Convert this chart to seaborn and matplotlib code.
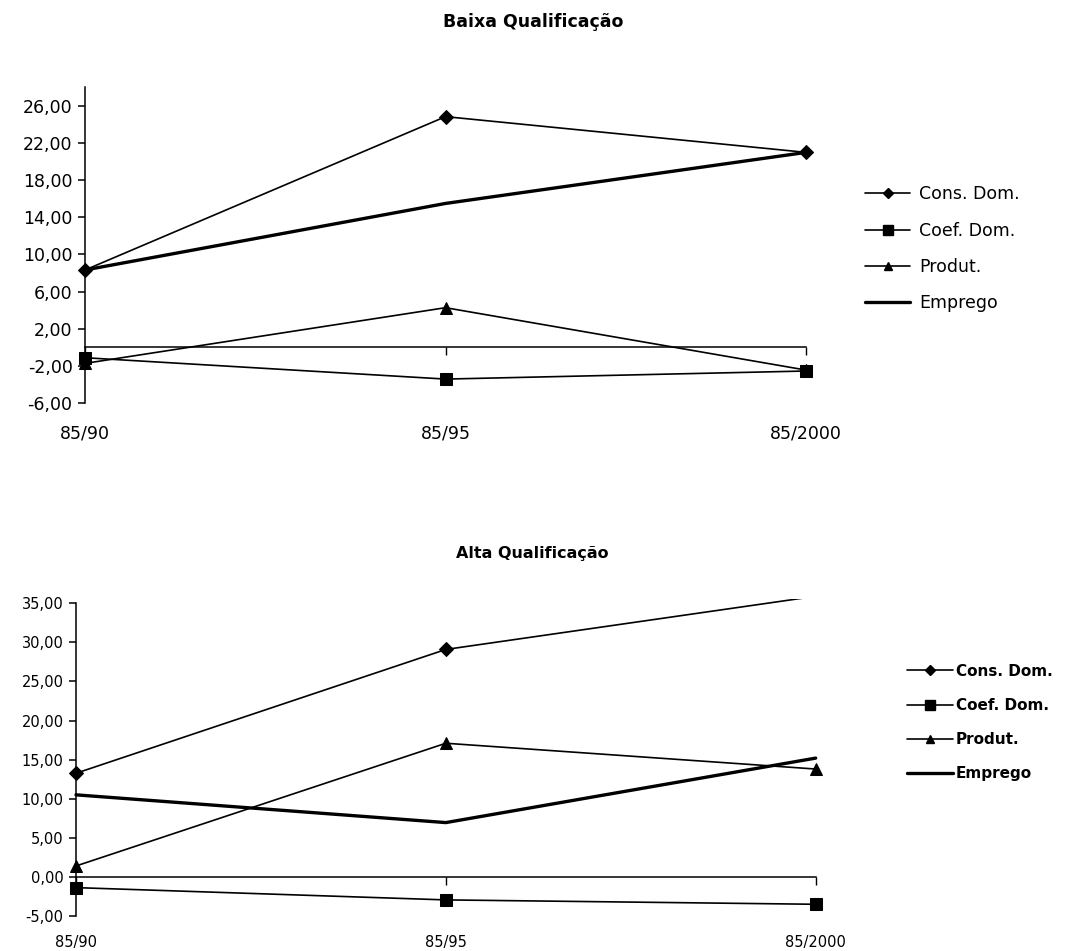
import numpy as np
import pandas as pd
import matplotlib.pyplot as plt
import seaborn as sns
from matplotlib.lines import Line2D
from matplotlib.patches import Rectangle
from matplotlib.ticker import FuncFormatter

# data
periodos = ['85/90', '85/95', '85/2000']
series = ['Cons. Dom.', 'Coef. Dom.', 'Produt.', 'Emprego']

baixa_cons = [8.33, 24.85, 21.0]
baixa_coef = [-1.12, -3.42, -2.55]
baixa_produt = [-1.73, 4.27, -2.45]
baixa_emprego = [8.33, 15.5, 21.0]

alta_cons = [13.26, 29.1, 35.9]
alta_coef = [-1.37, -2.94, -3.5]
alta_produt = [1.4, 17.1, 13.8]
alta_emprego = [10.5, 6.95, 15.2]

baixa_yticks = [-6, -2, 2, 6, 10, 14, 18, 22, 26]
alta_yticks = [-5, 0, 5, 10, 15, 20, 25, 30, 35]

markers = {'Cons. Dom.': 'D', 'Coef. Dom.': 's', 'Produt.': '^', 'Emprego': None}
msizes = {'Cons. Dom.': 7, 'Coef. Dom.': 8.5, 'Produt.': 8, 'Emprego': 0}
widths = {'Cons. Dom.': 1.2, 'Coef. Dom.': 1.2, 'Produt.': 1.2, 'Emprego': 2.4}

def make_df(cons, coef, produt, emprego):
    rows = []
    for s, vals in zip(series, [cons, coef, produt, emprego]):
        for p, v in zip(periodos, vals):
            rows.append({'periodo': p, 'serie': s, 'valor': v})
    return pd.DataFrame(rows)

baixa = make_df(baixa_cons, baixa_coef, baixa_produt, baixa_emprego)
alta = make_df(alta_cons, alta_coef, alta_produt, alta_emprego)

sns.set_style('ticks')
plt.rcParams['font.family'] = ['DejaVu Sans']
plt.rcParams['text.color'] = 'black'
plt.rcParams['xtick.color'] = 'black'
plt.rcParams['ytick.color'] = 'black'
plt.rcParams['axes.labelcolor'] = 'black'

fig = plt.figure(figsize=(10.72, 9.51), dpi=100)
ax1 = fig.add_axes([0.0793, 0.5762, 0.6726, 0.3319])
ax2 = fig.add_axes([0.0709, 0.0368, 0.6900, 0.3329])

def draw(ax, df, ylim, yticks, fs, pad, spine_top):
    for s in series:
        sub = df[df['serie'] == s]
        sns.lineplot(sub, x='periodo', y='valor', ax=ax, color='black',
                     marker=markers[s], markersize=msizes[s], linewidth=widths[s],
                     markeredgecolor='black', legend=False, sort=False)
        ln = ax.lines[-1]
        # points beyond the top of the axis get no marker (cut off like the original)
        ln.set_markevery([i for i, v in enumerate(sub['valor']) if v <= ylim[1]])
        ln.set_clip_path(Rectangle((-0.05, -0.1), 1.1, 1.1, transform=ax.transAxes))
    ax.set_xlim(0, 2)
    ax.set_ylim(*ylim)
    ax.set_yticks(yticks)
    ax.yaxis.set_major_formatter(FuncFormatter(lambda v, p: f'{v:.2f}'.replace('.', ',')))
    ax.spines['top'].set_visible(False)
    ax.spines['right'].set_visible(False)
    ax.spines['bottom'].set_position(('data', 0))
    ax.spines['left'].set_bounds(ylim[0], spine_top)
    for sp in ['left', 'bottom']:
        ax.spines[sp].set_linewidth(1.1)
        ax.spines[sp].set_color('black')
    ax.tick_params(axis='y', direction='out', length=5, width=1.1, labelsize=fs, pad=4)
    ax.tick_params(axis='x', direction='out', length=5.5, width=1.0, labelsize=fs, pad=pad)
    ax.set_xlabel('')
    ax.set_ylabel('')

draw(ax1, baixa, (-6, 28), baixa_yticks, 12.5, 50, 28)
draw(ax2, alta, (-5, 35.5), alta_yticks, 10.5, 36, 35)

fig.text(0.497, 0.977, 'Baixa Qualificação', ha='center', va='center',
         fontsize=12.5, fontweight='bold')
fig.text(0.497, 0.4175, 'Alta Qualificação', ha='center', va='center',
         fontsize=11.5, fontweight='bold')

def handles(ms_scale):
    hs = []
    for s in series:
        hs.append(Line2D([], [], color='black', marker=markers[s],
                         markersize=msizes[s] * ms_scale,
                         linewidth=widths[s] if s == 'Emprego' else 1.2))
    return hs

fig.legend(handles(0.8), series, loc='upper left', bbox_to_anchor=(0.807, 0.805),
           frameon=False, fontsize=12.5, handlelength=2.6, handletextpad=0.5,
           labelspacing=1.05, borderpad=0, borderaxespad=0)
fig.legend(handles(0.8), series, loc='upper left', bbox_to_anchor=(0.846, 0.302),
           frameon=False, prop={'size': 11, 'weight': 'bold'}, handlelength=3.0,
           handletextpad=0.2, labelspacing=1.25, borderpad=0, borderaxespad=0)

plt.savefig('out.png', dpi=100)
